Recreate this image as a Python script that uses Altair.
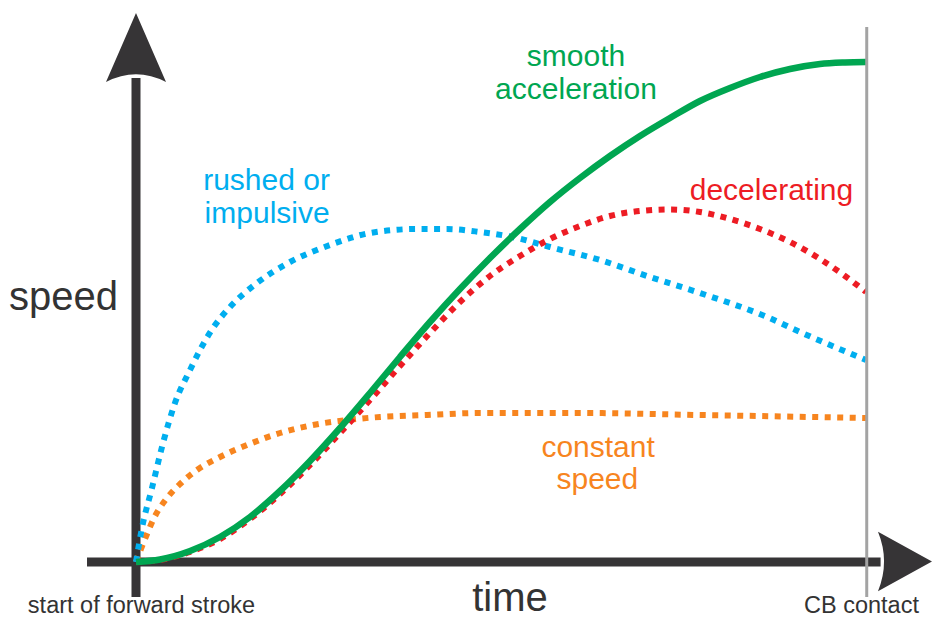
import altair as alt
import pandas as pd

# ---- curve data (time 0..100 = start .. CB contact, speed 0..100) ----
green_t = [0, 3.29, 7.40, 11.51, 15.62, 19.73, 23.84, 27.95, 32.05, 36.16, 40.27, 44.38, 48.49,
           52.60, 56.71, 60.82, 64.93, 69.04, 73.15, 77.26, 81.37, 85.48, 89.59, 93.70, 97.12, 100]
green_s = [0, 0.5, 2.2, 5.0, 9.0, 14.2, 20.2, 26.8, 33.8, 41.0, 48.0, 54.6, 60.8,
           66.6, 72.0, 76.8, 81.2, 85.2, 88.8, 92.2, 94.8, 97.0, 98.6, 99.6, 99.9, 100]

red_t = [0, 3.29, 7.40, 11.51, 15.62, 19.73, 23.84, 27.95, 32.05, 36.16, 40.27, 44.38, 48.49,
         52.60, 56.71, 60.82, 64.93, 69.04, 73.15, 77.26, 81.37, 85.48, 89.59, 93.70, 97.12, 100]
red_s = [0, 0.4, 2.0, 4.6, 8.6, 13.6, 19.4, 25.8, 32.4, 39.2, 45.8, 52.0, 57.2,
         61.2, 64.6, 67.2, 69.2, 70.2, 70.5, 70.0, 68.6, 66.6, 64.0, 60.6, 57.2, 54.0]

blue_t = [0, 0.82, 2.19, 3.70, 5.34, 7.40, 8.77, 10.55, 12.88, 16.58, 21.10, 26.58,
          32.05, 38.49, 42.60, 47.12, 52.19, 56.71, 63.56, 70.41, 77.26, 86.44, 90.96, 100]
blue_s = [0, 6.8, 14.8, 23.8, 31.8, 38.4, 42.4, 46.8, 51.0, 55.8, 60.0, 63.4,
          65.8, 66.6, 66.6, 66.0, 64.8, 63.0, 60.4, 57.0, 53.8, 49.0, 46.0, 40.4]

orange_t = [0, 0.68, 1.51, 2.47, 4.25, 6.03, 8.36, 11.51, 15.21, 19.73, 24.25, 28.90,
            33.42, 39.86, 47.12, 60.82, 77.26, 100]
orange_s = [0, 2.6, 5.6, 8.8, 12.8, 15.6, 18.4, 21.0, 23.4, 25.8, 27.4, 28.4,
            29.0, 29.4, 29.8, 29.8, 29.4, 28.8]

# ---- labels ----
label_text = ["smooth", "acceleration", "rushed or", "impulsive", "decelerating", "constant", "speed"]
label_t = [60.27, 60.27, 9.2, 9.4, 87.05, 63.3, 63.2]
label_s = [99.2, 92.6, 74.4, 67.8, 72.4, 21.0, 14.6]
label_color = ["#00a651", "#00a651", "#00aeef", "#00aeef", "#ed1c24", "#f7851f", "#f7851f"]
label_align = ["center", "center", "left", "left", "center", "center", "center"]

axis_text = ["speed", "time", "start of forward stroke", "CB contact"]
axis_t = [-9.93, 51.23, 0.75, 99.38]
axis_s = [50.4, -9.8, -10.2, -10.2]
axis_size = [40, 40, 23.5, 23.5]

# ---- scales ----
xs = alt.Scale(domain=[-17.534, 109.178], nice=False, zero=False)
ys = alt.Scale(domain=[-11.2, 110.8], nice=False, zero=False)
X = lambda f: alt.X(f, type="quantitative", scale=xs, axis=None)
Y = lambda f: alt.Y(f, type="quantitative", scale=ys, axis=None)

DARK = "#363436"
FONT = "Liberation Sans"


def curve(t, s, color, dash=None, width=6.0):
    df = pd.DataFrame({"t": t, "s": s})
    kw = dict(color=color, strokeWidth=width, interpolate="monotone", strokeCap="butt")
    if dash is not None:
        kw["strokeDash"] = dash
    return alt.Chart(df).mark_line(**kw).encode(x=X("t"), y=Y("s"))


# axis shafts
shafts = pd.DataFrame({"t": [0, -6.71], "t2": [0, 102.0], "s": [-7.0, 0], "s2": [96.8, 0]})
shaft_layer = alt.Chart(shafts).mark_rule(color=DARK, strokeWidth=9, strokeCap="butt").encode(
    x=X("t"), x2="t2", y=Y("s"), y2="s2")

up_arrow = alt.Chart(pd.DataFrame({"t": [0], "s": [102.9]})).mark_point(
    shape="M0,-1 L0.87,1 Q0,0.55 -0.87,1 Z", size=4761, filled=True, fill=DARK,
    opacity=1, strokeWidth=0).encode(x=X("t"), y=Y("s"))
right_arrow = alt.Chart(pd.DataFrame({"t": [105.34], "s": [0.1]})).mark_point(
    shape="M1,0 L-1,1.1 Q-0.55,0 -1,-1.1 Z", size=2916, filled=True, fill=DARK,
    opacity=1, strokeWidth=0).encode(x=X("t"), y=Y("s"))

contact = alt.Chart(pd.DataFrame({"t": [100.1], "s": [-7.0], "s2": [107.0]})).mark_rule(
    color="#a3a3a3", strokeWidth=3).encode(x=X("t"), y=Y("s"), y2="s2")

DOT = [6, 6.5]
lines = [
    curve(orange_t, orange_s, "#f7851f", DOT),
    curve(blue_t, blue_s, "#00aeef", DOT),
    curve(red_t, red_s, "#ed1c24", DOT),
    curve(green_t, green_s, "#00a651", None, 6.5),
]

lab_df = pd.DataFrame({"text": label_text, "t": label_t, "s": label_s,
                       "c": label_color, "a": label_align})
label_layers = []
for al in ["center", "left"]:
    sub = lab_df[lab_df["a"] == al]
    label_layers.append(
        alt.Chart(sub).mark_text(font=FONT, fontSize=30, align=al, baseline="alphabetic").encode(
            x=X("t"), y=Y("s"), text="text:N",
            color=alt.Color("c:N", scale=None)))

ax_df = pd.DataFrame({"text": axis_text, "t": axis_t, "s": axis_s, "size": axis_size})
axis_labels = alt.Chart(ax_df).mark_text(font=FONT, color="#333333", align="center",
                                         baseline="alphabetic").encode(
    x=X("t"), y=Y("s"), text="text:N", size=alt.Size("size:Q", scale=None))

chart = alt.layer(
    shaft_layer, up_arrow, right_arrow, *lines, contact, *label_layers, axis_labels
).properties(
    width=925, height=610, autosize=alt.AutoSizeParams(type="none"), padding=0
).configure_view(stroke=None)

chart.save("out.html", embed_options={"renderer": "svg", "actions": False})
